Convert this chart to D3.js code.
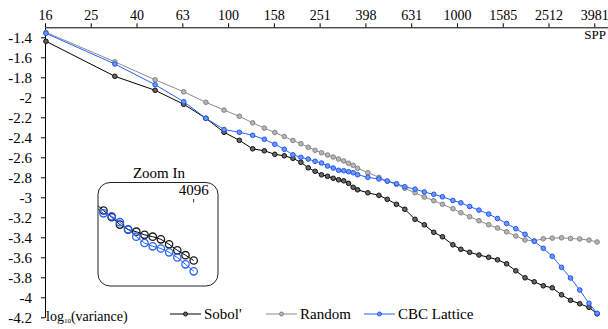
<!DOCTYPE html>
<html>
<head>
<meta charset="utf-8">
<script src="https://cdn.jsdelivr.net/npm/d3@7"></script>
<style>
  body { margin: 0; background: #fff; }
  svg { display: block; font-family: "Liberation Serif", "Times New Roman", serif; }
</style>
</head>
<body>
<svg id="chart" width="608" height="329"></svg>
<script>
// samples per pixel
const sppValues = [16, 32, 48, 64, 80, 96, 112, 128, 144, 160, 176, 192, 208, 224, 240, 256, 272, 288, 304, 320, 336, 352, 368,
  408, 456, 496, 544, 592, 656, 720, 792, 864, 960, 1040, 1136, 1248, 1376, 1504, 1648, 1808, 1984, 2176, 2384, 2608, 2864, 3136, 3440, 3776, 4096];

const sobolValues = [-1.44, -1.79, -1.93, -2.07, -2.21, -2.35, -2.43, -2.515, -2.535, -2.57, -2.585, -2.61, -2.65, -2.705, -2.74, -2.775, -2.79, -2.81, -2.825, -2.835, -2.86, -2.90, -2.925,
  -2.955, -2.98, -3.02, -3.07, -3.12, -3.22, -3.275, -3.35, -3.395, -3.475, -3.52, -3.55, -3.577, -3.60, -3.625, -3.665, -3.735, -3.805, -3.845, -3.885, -3.905, -3.975, -4.03, -4.065, -4.10, -4.165];

const randomValues = [-1.35, -1.645, -1.825, -1.945, -2.05, -2.128, -2.19, -2.255, -2.308, -2.352, -2.392, -2.432, -2.464, -2.50, -2.53, -2.555, -2.577, -2.597, -2.617, -2.637, -2.66, -2.68, -2.71,
  -2.754, -2.80, -2.84, -2.87, -2.91, -2.954, -2.997, -3.034, -3.07, -3.114, -3.154, -3.194, -3.234, -3.274, -3.307, -3.345, -3.387, -3.427, -3.435, -3.415, -3.408, -3.405, -3.412, -3.417, -3.428, -3.447];

const latticeValues = [-1.36, -1.667, -1.874, -2.044, -2.21, -2.322, -2.35, -2.38, -2.42, -2.47, -2.52, -2.575, -2.60, -2.618, -2.64, -2.657, -2.687, -2.707, -2.73, -2.734, -2.744, -2.754, -2.774,
  -2.80, -2.817, -2.837, -2.864, -2.895, -2.918, -2.947, -2.97, -2.995, -3.032, -3.055, -3.092, -3.128, -3.168, -3.212, -3.262, -3.314, -3.37, -3.44, -3.51, -3.59, -3.70, -3.807, -3.927, -4.06, -4.16];

const xTickExps = [1.2, 1.4, 1.6, 1.8, 2.0, 2.2, 2.4, 2.6, 2.8, 3.0, 3.2, 3.4, 3.6];
const xTickLabels = ["16", "25", "40", "63", "100", "158", "251", "398", "631", "1000", "1585", "2512", "3981"];
const yTickValues = [-4.2, -4, -3.8, -3.6, -3.4, -3.2, -3, -2.8, -2.6, -2.4, -2.2, -2, -1.8, -1.6, -1.4];
const yTickLabels = ["-4.2", "-4", "-3.8", "-3.6", "-3.4", "-3.2", "-3", "-2.8", "-2.6", "-2.4", "-2.2", "-2", "-1.8", "-1.6", "-1.4"];

// zoom-in inset (first entry sits just outside the box, gets clipped)
const insetIndex = [0, 1, 2, 3, 4, 5, 6, 7, 8, 9, 10, 11, 12];
const insetSobol = [-3.035, -3.105, -3.172, -3.246, -3.296, -3.317, -3.348, -3.367, -3.393, -3.443, -3.503, -3.552, -3.605];
const insetLattice = [-3.075, -3.133, -3.163, -3.222, -3.293, -3.367, -3.43, -3.463, -3.485, -3.523, -3.575, -3.643, -3.713];

const series = [
  { name: "Random", values: randomValues, line: "#8c8c8c", stroke: "#858585", fill: "#b5b5b5" },
  { name: "Sobol'", values: sobolValues, line: "#000000", stroke: "#111111", fill: "#666666" },
  { name: "CBC Lattice", values: latticeValues, line: "#2563ff", stroke: "#1d55f5", fill: "#6f96ff" }
];

const svg = d3.select("#chart");

const x = d3.scaleLog()
  .domain([Math.pow(10, 1.2), Math.pow(10, 3.66)])
  .range([45, 608]);

const y = d3.scaleLinear()
  .domain([-4.2, -1.3])
  .range([317.3, 27.3]);

// x axis along the top
const xAxis = svg.append("g")
  .attr("transform", `translate(0,${y(-1.3)})`)
  .call(d3.axisTop(x)
    .tickValues(xTickExps.map(e => Math.pow(10, e)))
    .tickFormat((d, i) => xTickLabels[i])
    .tickSize(4)
    .tickSizeOuter(0)
    .tickPadding(3));
xAxis.selectAll("text").attr("font-size", 14).attr("fill", "#000")
  .attr("font-family", "Liberation Serif, serif");
xAxis.selectAll("line, path").attr("stroke", "#000");

svg.append("text")
  .attr("x", 606).attr("y", 39)
  .attr("text-anchor", "end")
  .attr("font-size", 13)
  .text("SPP");

const yAxis = svg.append("g")
  .attr("transform", `translate(${x(Math.pow(10, 1.2))},0)`)
  .call(d3.axisLeft(y)
    .tickValues(yTickValues)
    .tickFormat((d, i) => yTickLabels[i])
    .tickSize(4)
    .tickSizeOuter(0)
    .tickPadding(9));
yAxis.selectAll("text").attr("font-size", 15).attr("fill", "#000")
  .attr("font-family", "Liberation Serif, serif");
yAxis.selectAll("line, path").attr("stroke", "#000");

const yLab = svg.append("text")
  .attr("x", 46).attr("y", 321)
  .attr("font-size", 14);
yLab.append("tspan").text("log");
yLab.append("tspan").attr("font-size", 7).attr("dy", 2).text("10");
yLab.append("tspan").attr("dy", -2).text("(variance)");

const line = d3.line()
  .x(d => x(d[0]))
  .y(d => y(d[1]));

series.forEach(s => {
  const pts = sppValues.map((v, i) => [v, s.values[i]]);
  svg.append("path")
    .datum(pts)
    .attr("fill", "none")
    .attr("stroke", s.line)
    .attr("stroke-width", 1)
    .attr("d", line);
  svg.append("g").selectAll("circle")
    .data(pts)
    .join("circle")
    .attr("cx", d => x(d[0]))
    .attr("cy", d => y(d[1]))
    .attr("r", 2.3)
    .attr("fill", s.fill)
    .attr("stroke", s.stroke)
    .attr("stroke-width", 1);
});

// legend
const legendItems = [
  { s: series[1], x0: 170 },
  { s: series[0], x0: 266 },
  { s: series[2], x0: 364 }
];
legendItems.forEach(it => {
  const g = svg.append("g").attr("transform", `translate(${it.x0},314)`);
  g.append("line").attr("x1", 0).attr("x2", 31).attr("y1", 0).attr("y2", 0)
    .attr("stroke", it.s.line).attr("stroke-width", 1);
  g.append("circle").attr("cx", 15.5).attr("cy", 0).attr("r", 2)
    .attr("fill", it.s.fill).attr("stroke", it.s.stroke);
  g.append("text").attr("x", 34).attr("y", 5)
    .attr("font-size", 15).text(it.s.name);
});

// inset
const box = { x: 98, y: 182.5, w: 120, h: 103.5 };
svg.append("text")
  .attr("x", 159).attr("y", 178)
  .attr("text-anchor", "middle")
  .attr("font-size", 15)
  .text("Zoom In");

svg.append("defs").append("clipPath").attr("id", "insetClip")
  .append("rect").attr("x", box.x).attr("y", box.y).attr("width", box.w).attr("height", box.h)
  .attr("rx", 12);

const ix = d3.scaleLinear().domain([1, 12]).range([103.5, 193.7]);
const iy = d3.scaleLinear().domain([-3.0, -3.9]).range([200, 290]);

const inset = svg.append("g").attr("clip-path", "url(#insetClip)");
const iline = d3.line().x(d => ix(d[0])).y(d => iy(d[1]));
[
  { vals: insetSobol, col: "#000", mk: "#1a1a1a" },
  { vals: insetLattice, col: "#2563ff", mk: "#2a64ff" }
].forEach(s => {
  const pts = insetIndex.map((v, i) => [v, s.vals[i]]);
  inset.append("path").datum(pts)
    .attr("fill", "none").attr("stroke", s.col).attr("stroke-width", 1)
    .attr("d", iline);
  inset.append("g").selectAll("circle")
    .data(pts.slice(1))
    .join("circle")
    .attr("cx", d => ix(d[0]))
    .attr("cy", d => iy(d[1]))
    .attr("r", 3.7)
    .attr("fill", "none")
    .attr("stroke", s.mk)
    .attr("stroke-width", 1.3);
});

svg.append("rect")
  .attr("x", box.x).attr("y", box.y).attr("width", box.w).attr("height", box.h)
  .attr("rx", 12)
  .attr("fill", "none").attr("stroke", "#222").attr("stroke-width", 1);

svg.append("text")
  .attr("x", ix(12)).attr("y", 195)
  .attr("text-anchor", "middle")
  .attr("font-size", 15)
  .text("4096");
svg.append("line")
  .attr("x1", ix(12)).attr("x2", ix(12))
  .attr("y1", 199).attr("y2", 202.5)
  .attr("stroke", "#000").attr("stroke-width", 0.8);
</script>
</body>
</html>
